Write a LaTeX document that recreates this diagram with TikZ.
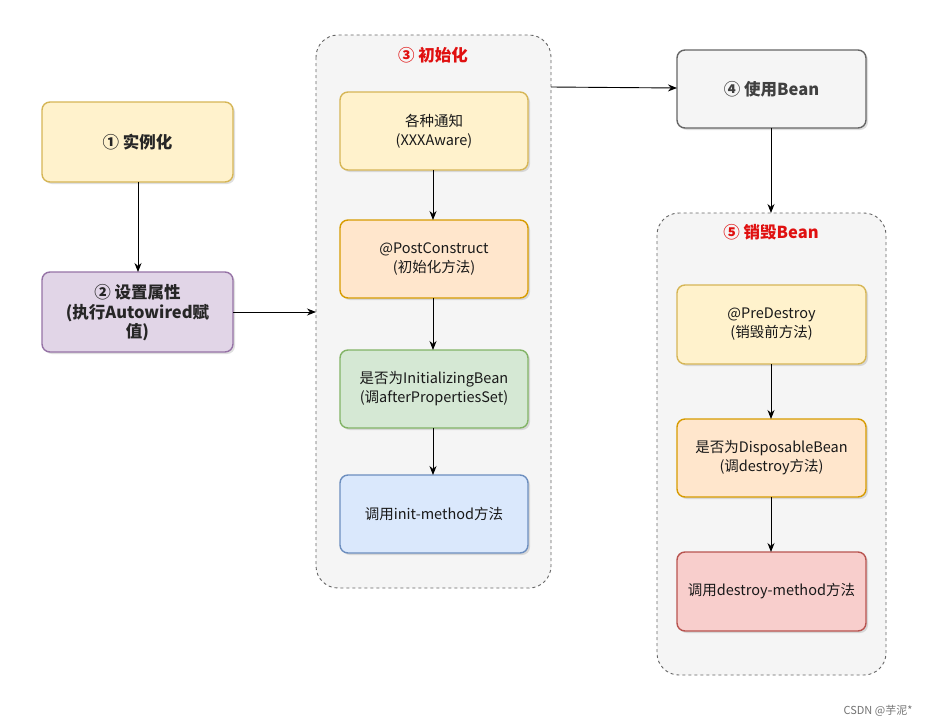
\documentclass[tikz,border=0pt]{standalone}
\usepackage{fontspec}
\setmainfont{Noto Sans CJK SC}
\usetikzlibrary{arrows.meta,shadows}
\definecolor{yfill}{HTML}{FFF2CC}\definecolor{ydraw}{HTML}{D6B656}
\definecolor{pfill}{HTML}{E1D5E7}\definecolor{pdraw}{HTML}{9673A6}
\definecolor{ofill}{HTML}{FFE6CC}\definecolor{odraw}{HTML}{D79B00}
\definecolor{gfill}{HTML}{D5E8D4}\definecolor{gdraw}{HTML}{82B366}
\definecolor{bfill}{HTML}{DAE8FC}\definecolor{bdraw}{HTML}{6C8EBF}
\definecolor{rfill}{HTML}{F8CECC}\definecolor{rdraw}{HTML}{B85450}
\definecolor{nfill}{HTML}{F5F5F5}\definecolor{ndraw}{HTML}{666666}
\definecolor{titlered}{HTML}{E01010}
\begin{document}
\begin{tikzpicture}[x=1pt,y=-1pt,
  box/.style={rounded corners=8pt, line width=1.4pt, drop shadow={shadow xshift=2pt,shadow yshift=-2pt,opacity=0.25}},
  grp/.style={draw=ndraw, dashed, fill=nfill, rounded corners=22pt, line width=0.9pt},
  lbl/.style={align=center, font=\fontsize{14.5}{19}\selectfont, text=black!90},
  blbl/.style={align=center, font=\bfseries\fontsize{16.5}{19.5}\selectfont, text=black!85},
  arr/.style={-{Stealth[length=9pt,width=7pt]}, line width=0.9pt, black}]
\useasboundingbox (0,0) rectangle (935,726);
\fill[white] (0,0) rectangle (935,726);
% groups
\draw[grp] (316,35) rectangle (551,588);
\draw[grp] (657,213) rectangle (886,675);
\node[font=\bfseries\fontsize{16.5}{19}\selectfont, text=titlered] (t3) at (433,55) {③ 初始化};
\node[font=\bfseries\fontsize{16.5}{19}\selectfont, text=titlered] (t5) at (771,232) {⑤ 销毁Bean};
\coordinate (g3w) at (316,312);
\coordinate (g3e) at (551,87);
\coordinate (g5n) at (771,213);
% boxes
\draw[box, fill=yfill, draw=ydraw] (42,102) rectangle (233,182);
\node[blbl] (n1) at (137.5,142) {① 实例化};
\draw[box, fill=pfill, draw=pdraw] (42,272) rectangle (233,352);
\node[blbl] (n2) at (137.5,313) {② 设置属性\\(执行Autowired赋\\值)};
\coordinate (n1s) at (138,182);\coordinate (n2n) at (138,272);\coordinate (n2e) at (233,312);

\draw[box, fill=yfill, draw=ydraw] (340,92) rectangle (528,170);
\node[lbl] (a) at (434,131) {各种通知\\(XXXAware)};
\draw[box, fill=ofill, draw=odraw] (340,220) rectangle (528,298);
\node[lbl] (b) at (434,259) {@PostConstruct\\(初始化方法)};
\draw[box, fill=gfill, draw=gdraw] (340,350) rectangle (528,428);
\node[lbl] (c) at (434,389) {是否为InitializingBean\\(调afterPropertiesSet)};
\draw[box, fill=bfill, draw=bdraw] (340,475) rectangle (528,553);
\node[lbl] (d) at (434,514) {调用init-method方法};
\coordinate (as) at (433,170);\coordinate (bn) at (433,220);
\coordinate (bs) at (433,298);\coordinate (cn) at (433,350);
\coordinate (cs) at (433,428);\coordinate (dn) at (433,475);

\draw[box, fill=nfill, draw=ndraw] (677,50) rectangle (866,128);
\node[blbl, text=black!75] (n4) at (771.5,89) {④ 使用Bean};
\coordinate (n4w) at (677,88);\coordinate (n4s) at (771,128);

\draw[box, fill=yfill, draw=ydraw] (677,285) rectangle (866,364);
\node[lbl] (e) at (771.5,324.5) {@PreDestroy\\(销毁前方法)};
\draw[box, fill=ofill, draw=odraw] (677,419) rectangle (866,497);
\node[lbl] (f) at (771.5,458) {是否为DisposableBean\\(调destroy方法)};
\draw[box, fill=rfill, draw=rdraw] (677,552) rectangle (866,631);
\node[lbl] (g) at (771.5,591.5) {调用destroy-method方法};
\coordinate (es) at (771,364);\coordinate (fn) at (771,419);
\coordinate (fs) at (771,497);\coordinate (gn) at (771,552);

% arrows
\draw[arr] (n1s) -- (n2n);
\draw[arr] (n2e) -- (g3w);
\draw[arr] (as) -- (bn);
\draw[arr] (bs) -- (cn);
\draw[arr] (cs) -- (dn);
\draw[arr] (g3e) -- (n4w);
\draw[arr] (n4s) -- (g5n);
\draw[arr] (es) -- (fn);
\draw[arr] (fs) -- (gn);
\node[font=\fontsize{11}{13}\selectfont, text=black!55] (wm) at (878,711) {CSDN @芋泥*};
\end{tikzpicture}
\end{document}
